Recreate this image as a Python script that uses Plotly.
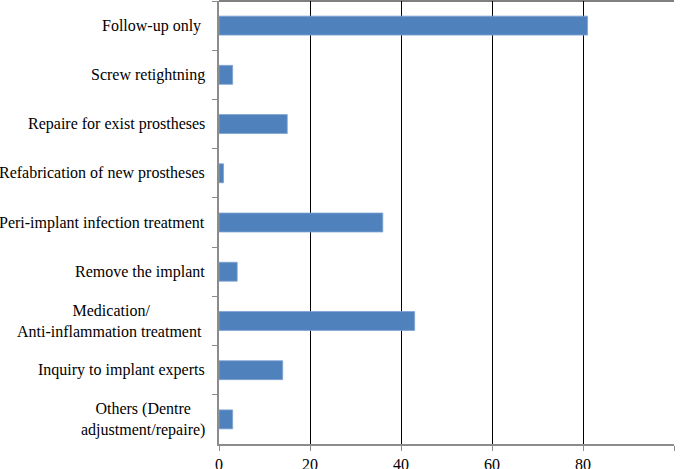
import plotly.graph_objects as go

categories = [
    "Follow-up only ",
    "Screw retightning",
    "Repaire for exist prostheses",
    "Refabrication of new prostheses",
    "Peri-implant infection treatment",
    "Remove the implant",
    "Medication/<br>Anti-inflammation treatment ",
    "Inquiry to implant experts",
    "Others (Dentre<br>adjustment/repaire)",
]
values = [81, 3, 15, 1, 36, 4, 43, 14, 3]
x_ticks = [0, 20, 40, 60, 80, 100]

FONT = "Liberation Serif"

fig = go.Figure()
fig.add_trace(go.Bar(
    x=values, y=categories, orientation="h",
    marker=dict(color="#4F81BD", line=dict(color="#7FA3D3", width=0.8)),
    hoverinfo="x+y",
))

for c in categories:
    fig.add_annotation(
        x=0, xref="paper", y=c, yref="y", text=c,
        xanchor="right", yanchor="middle", align="center",
        showarrow=False, xshift=-12,
        font=dict(family=FONT, size=16, color="black"),
    )

fig.update_layout(
    width=685, height=469,
    margin=dict(l=219, r=11, t=1, b=25, autoexpand=False),
    paper_bgcolor="white", plot_bgcolor="white",
    bargap=0.615, showlegend=False,
    font=dict(family=FONT, size=16, color="black"),
    shapes=[dict(type="line", xref="paper", yref="paper", x0=0, x1=1, y0=1, y1=1,
                 line=dict(color="black", width=1))],
)
fig.update_xaxes(
    range=[0, 100], tickvals=x_ticks, ticktext=[str(v) for v in x_ticks],
    showgrid=True, gridcolor="black", gridwidth=1,
    showline=True, linecolor="#8C8C8C", linewidth=1.5,
    ticks="outside", ticklen=5, tickcolor="#8C8C8C",
    zeroline=False, fixedrange=True, automargin=False,
    tickfont=dict(family=FONT, size=16, color="black"),
)
fig.update_yaxes(
    autorange="reversed", categoryorder="array", categoryarray=categories,
    showticklabels=False, showgrid=False,
    showline=True, linecolor="#8C8C8C", linewidth=1.5,
    ticks="outside", ticklen=5, tickcolor="#8C8C8C", tickson="boundaries",
    zeroline=False, fixedrange=True, automargin=False,
)

fig.write_html(
    "out.html",
    config={"displayModeBar": False},
    post_script="document.body.style.margin='0';document.body.style.overflow='hidden';",
)
